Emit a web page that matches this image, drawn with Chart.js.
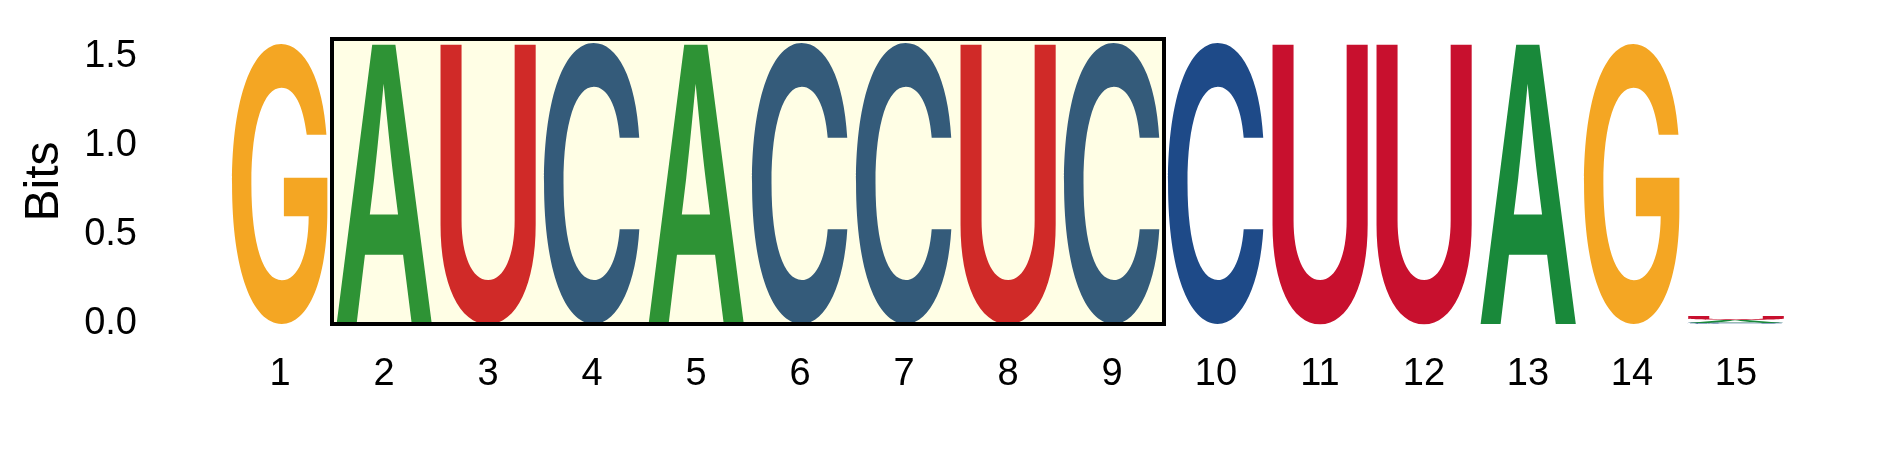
<!DOCTYPE html>
<html>
<head>
<meta charset="utf-8">
<title>Sequence logo</title>
<script src="https://cdn.jsdelivr.net/npm/chart.js@4.4.1/dist/chart.umd.min.js"></script>
<style>
  html, body { margin: 0; padding: 0; background: #fff; }
  canvas { display: block; }
</style>
</head>
<body>
<canvas id="logo-chart" width="1889" height="472"></canvas>
<script>
"use strict"

// DATA

const positions = ['1', '2', '3', '4', '5', '6', '7', '8', '9', '10', '11', '12', '13', '14', '15'];

// information (bits) carried by each nucleotide at each position
const bitsC = [0, 0, 0, 1.573, 0, 1.573, 1.573, 0, 1.573, 1.573, 0, 0, 0, 0, 0.008];
const bitsA = [0, 1.573, 0, 0, 1.573, 0, 0, 0, 0, 0, 0, 0, 1.573, 0, 0.013];
const bitsU = [0, 0, 1.573, 0, 0, 0, 0, 1.573, 0, 0, 1.573, 1.573, 0, 0, 0.022];
const bitsG = [1.567, 0, 0, 0, 0, 0, 0, 0, 0, 0, 0, 0, 0, 1.567, 0];

const yTicks = [0, 0.5, 1.0, 1.5];
const yMax = 1.6;

// highlighted motif, first and last position
const motifStart = 2;
const motifEnd = 9;

// STYLE

const FONT = '"Liberation Sans", Arial, sans-serif';
const GLYPH_FONT = '600 200px Inter, "Liberation Sans", sans-serif';

const letterColors = { A: '#19893a', C: '#1e4a88', G: '#f4a623', U: '#c8102e' };
const motifColors = { A: '#2e9335', C: '#345b7a', G: '#f4a623', U: '#d02a28' };

// GLYPHS

const glyphCache = {};

function glyphBox(ctx, letter) {
  if (!glyphCache[letter]) {
    ctx.save();
    ctx.font = GLYPH_FONT;
    const m = ctx.measureText(letter);
    ctx.restore();
    glyphCache[letter] = {
      left: m.actualBoundingBoxLeft,
      width: m.actualBoundingBoxLeft + m.actualBoundingBoxRight,
      asc: m.actualBoundingBoxAscent,
      height: m.actualBoundingBoxAscent + m.actualBoundingBoxDescent
    };
  }
  return glyphCache[letter];
}

function motifRect(chart) {
  const x = chart.scales.x;
  const y = chart.scales.y;
  const left = x.getPixelForValue(motifStart - 1 - 0.5);
  const right = x.getPixelForValue(motifEnd - 1 + 0.5);
  const top = y.getPixelForValue(yMax);
  const bottom = y.getPixelForValue(0);
  return { left, top, w: right - left, h: bottom - top };
}

// draws each stacked bar as a letter stretched to fill it
const logoLetters = {
  id: 'logoLetters',
  beforeDatasetsDraw(chart) {
    const ctx = chart.ctx;
    const r = motifRect(chart);
    ctx.save();
    ctx.fillStyle = '#fffee5';
    ctx.fillRect(r.left, r.top, r.w, r.h);
    ctx.restore();
  },
  afterDatasetsDraw(chart) {
    const ctx = chart.ctx;
    chart.data.datasets.forEach((ds, i) => {
      const meta = chart.getDatasetMeta(i);
      meta.data.forEach((bar, j) => {
        const p = bar.getProps(['x', 'y', 'base', 'width'], true);
        const h = p.base - p.y;
        if (!(h > 0)) return;
        const g = glyphBox(ctx, ds.letter);
        const pos = j + 1;
        const inMotif = pos >= motifStart && pos <= motifEnd;
        ctx.save();
        ctx.fillStyle = inMotif ? motifColors[ds.letter] : letterColors[ds.letter];
        ctx.font = GLYPH_FONT;
        ctx.textAlign = 'left';
        ctx.textBaseline = 'alphabetic';
        ctx.translate(p.x - p.width / 2, p.y);
        ctx.scale(p.width / g.width, h / g.height);
        ctx.fillText(ds.letter, g.left, g.asc);
        ctx.restore();
      });
    });

    // motif frame on top of the letters
    const r = motifRect(chart);
    ctx.save();
    ctx.strokeStyle = '#000';
    ctx.lineWidth = 4;
    ctx.strokeRect(r.left, r.top, r.w, r.h);
    ctx.restore();
  }
};

// CHART

const data = {
  labels: positions,
  datasets: [
    { label: 'C', letter: 'C', data: bitsC },
    { label: 'A', letter: 'A', data: bitsA },
    { label: 'U', letter: 'U', data: bitsU },
    { label: 'G', letter: 'G', data: bitsG }
  ].map(ds => Object.assign(ds, {
    backgroundColor: 'rgba(0,0,0,0)',
    borderWidth: 0,
    categoryPercentage: 1,
    barPercentage: 0.923
  }))
};

const config = {
  type: 'bar',
  data,
  plugins: [logoLetters],
  options: {
    responsive: false,
    animation: false,
    devicePixelRatio: 1,
    layout: { padding: { left: 0, top: 39, right: 101, bottom: 0 } },
    plugins: {
      legend: { display: false },
      tooltip: { enabled: false }
    },
    scales: {
      x: {
        stacked: true,
        grid: { display: false, drawTicks: false, tickLength: 0 },
        border: { display: false },
        ticks: {
          color: '#000',
          padding: 28,
          maxRotation: 0,
          autoSkip: false,
          font: { family: FONT, size: 38 }
        },
        afterFit: (scale) => { scale.height = 148; }
      },
      y: {
        stacked: true,
        min: 0,
        max: yMax,
        grid: { display: false, drawTicks: false, tickLength: 0 },
        border: { display: false },
        afterBuildTicks: (scale) => { scale.ticks = yTicks.map(v => ({ value: v })); },
        ticks: {
          color: '#000',
          padding: 91,
          font: { family: FONT, size: 38 },
          callback: (v) => Number(v).toFixed(1)
        },
        title: {
          display: true,
          text: 'Bits',
          color: '#000',
          font: { family: FONT, size: 48 },
          padding: { top: 16, bottom: 0 }
        },
        afterFit: (scale) => {
          scale.width = 228;
          scale.paddingTop = 0;
          scale.paddingBottom = 0;
        }
      }
    }
  }
};

const logoChart = new Chart(document.getElementById('logo-chart'), config);
</script>
</body>
</html>
